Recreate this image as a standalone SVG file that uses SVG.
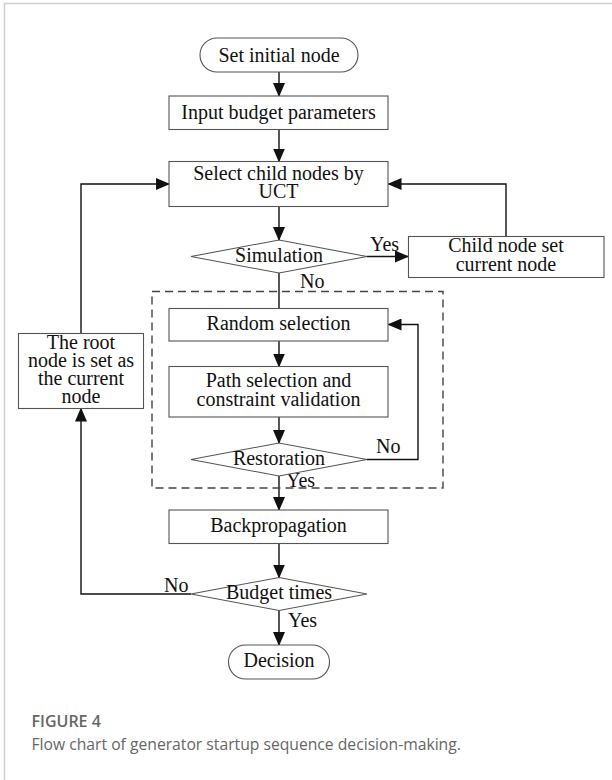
<svg xmlns="http://www.w3.org/2000/svg" width="612" height="780" viewBox="0 0 612 780">
<style>
.box{fill:#fff;stroke:#555;stroke-width:1.1}
.t{font-family:"Liberation Serif","Times New Roman",serif;font-size:20px;fill:#111;text-anchor:middle}
.l{font-family:"Liberation Serif","Times New Roman",serif;font-size:20px;fill:#111}
.c{fill:none;stroke:#111;stroke-width:1.4}
.cap{font-family:"Open Sans","Noto Sans",sans-serif;fill:#666}
</style>
<defs>
<marker id="ah" markerUnits="userSpaceOnUse" markerWidth="14" markerHeight="12" refX="13" refY="6" orient="auto">
<path d="M0,0 L14,6 L0,12 Z" fill="#111"/>
</marker>
</defs>
<rect width="612" height="780" fill="#fff"/>
<path d="M4.5,780 V3.5 H612" fill="none" stroke="#cfcfcf" stroke-width="1.5"/>

<g id="connectors">
<path class="c" d="M279,72 V96" marker-end="url(#ah)"/>
<path class="c" d="M279,129.5 V161.5" marker-end="url(#ah)"/>
<path class="c" d="M279,206.5 V240" marker-end="url(#ah)"/>
<path class="c" d="M367,256.5 H408" marker-end="url(#ah)"/>
<path class="c" d="M506,236.5 V184 H388.5" marker-end="url(#ah)"/>
<path class="c" d="M279,273 V308.5"/>
<path class="c" d="M279,341 V366.5" marker-end="url(#ah)"/>
<path class="c" d="M279,417 V443" marker-end="url(#ah)"/>
<path class="c" d="M367,459.5 H418 V324.5 H388.5" marker-end="url(#ah)"/>
<path class="c" d="M279,476 V510" marker-end="url(#ah)"/>
<path class="c" d="M279,543.5 V577.5" marker-end="url(#ah)"/>
<path class="c" d="M191,594 H81 V408.5" marker-end="url(#ah)"/>
<path class="c" d="M81,333.5 V184 H169" marker-end="url(#ah)"/>
<path class="c" d="M279,610.5 V645" marker-end="url(#ah)"/>
<rect x="152" y="291.5" width="291" height="196.5" fill="none" stroke="#444" stroke-width="1.4" stroke-dasharray="8,5"/>
<text class="l" x="370" y="251">Yes</text>
<text class="l" x="300" y="288">No</text>
<text class="l" x="376" y="453">No</text>
<text class="l" x="286" y="487">Yes</text>
<text class="l" x="164" y="592">No</text>
<text class="l" x="288" y="627">Yes</text>
</g>

<g id="start">
<rect class="box" x="200" y="38" width="158" height="34" rx="17"/>
<text class="t" x="279" y="61.5">Set initial node</text>
</g>
<g id="input">
<rect class="box" x="169" y="96" width="219" height="33.5"/>
<text class="t" x="278.5" y="118.5">Input budget parameters</text>
</g>
<g id="select">
<rect class="box" x="169" y="161.5" width="219" height="45"/>
<text class="t" x="278.5" y="180">Select child nodes by</text>
<text class="t" x="278.5" y="198">UCT</text>
</g>
<g id="simulation">
<path class="box" d="M191,256.5 L279,240 L367,256.5 L279,273 Z"/>
<text class="t" x="279" y="262">Simulation</text>
</g>
<g id="child">
<rect class="box" x="408.5" y="236.5" width="195.5" height="41"/>
<text class="t" x="506" y="252">Child node set</text>
<text class="t" x="506" y="270.5">current node</text>
</g>
<g id="random">
<rect class="box" x="169" y="308.5" width="219" height="32.5"/>
<text class="t" x="278.5" y="329.5">Random selection</text>
</g>
<g id="path">
<rect class="box" x="169" y="366.5" width="219" height="50.5"/>
<text class="t" x="278.5" y="387">Path selection and</text>
<text class="t" x="278.5" y="405.5">constraint validation</text>
</g>
<g id="restoration">
<path class="box" d="M191,459.5 L279,443 L367,459.5 L279,476 Z"/>
<text class="t" x="279" y="465">Restoration</text>
</g>
<g id="backprop">
<rect class="box" x="169" y="510" width="219" height="33.5"/>
<text class="t" x="278.5" y="532">Backpropagation</text>
</g>
<g id="budget">
<path class="box" d="M191,594 L279,577.5 L367,594 L279,610.5 Z"/>
<text class="t" x="279" y="599">Budget times</text>
</g>
<g id="decision">
<rect class="box" x="228.5" y="645" width="101" height="34" rx="17"/>
<text class="t" x="279" y="667">Decision</text>
</g>
<g id="root">
<rect class="box" x="18.5" y="333.5" width="125" height="75"/>
<text class="t" x="81" y="348.5">The root</text>
<text class="t" x="81" y="366.5">node is set as</text>
<text class="t" x="81" y="384.5">the current</text>
<text class="t" x="81" y="402.5">node</text>
</g>

<text class="cap" x="31.5" y="727" font-size="16" font-weight="600">FIGURE 4</text>
<text class="cap" x="31.5" y="750" font-size="15.7">Flow chart of generator startup sequence decision-making.</text>
</svg>
